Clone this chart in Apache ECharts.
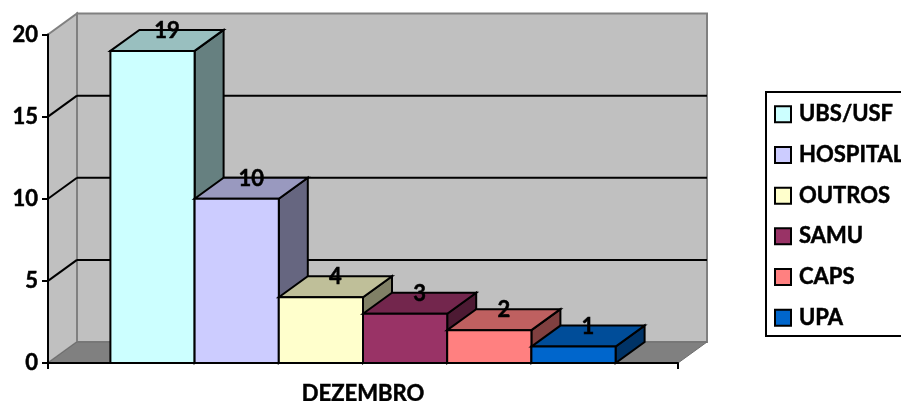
<!DOCTYPE html>
<html>
<head>
<meta charset="utf-8">
<style>
  html, body { margin: 0; padding: 0; background: #fff; overflow: hidden; }
  #main { width: 901px; height: 401px; }
</style>
<script src="https://cdn.jsdelivr.net/npm/echarts@6/dist/echarts.min.js"></script>
</head>
<body>
<div id="main"></div>
<script>
var categories = ['DEZEMBRO'];
var seriesNames = ['UBS/USF', 'HOSPITAL', 'OUTROS', 'SAMU', 'CAPS', 'UPA'];
var seriesValues = [19, 10, 4, 3, 2, 1];
var seriesColors = ['#CCFFFF', '#CCCCFF', '#FFFFCC', '#993366', '#FF8080', '#0066CC'];
var gridValues = [5, 10, 15];

// profundidade do efeito 3D
var DX = 29, DY = -21;
var BAR_W = 84.2 / 630;
var FONT = 'Lato, Carlito, "Open Sans", sans-serif';

function shade(hex, f) {
  var n = parseInt(hex.slice(1), 16);
  var r = Math.round((n >> 16 & 255) * f);
  var g = Math.round((n >> 8 & 255) * f);
  var b = Math.round((n & 255) * f);
  return 'rgb(' + r + ',' + g + ',' + b + ')';
}

function poly(points, fill, stroke, width) {
  return {
    type: 'polygon',
    shape: { points: points },
    style: { fill: fill, stroke: stroke, lineWidth: width, lineJoin: 'miter' }
  };
}

function line(x1, y1, x2, y2, color, width) {
  return {
    type: 'line',
    shape: { x1: x1, y1: y1, x2: x2, y2: y2 },
    style: { stroke: color, lineWidth: width, fill: null }
  };
}

// paredes e piso
function renderWalls(params, api) {
  var c = api.coord([0, 0]);
  var t = api.coord([0, 20]);
  var band = api.size([1, 0])[0];
  var l = c[0] - band / 2, r = c[0] + band / 2, b = c[1], u = t[1];
  return {
    type: 'group',
    children: [
      poly([[l + DX, u + DY], [r + DX, u + DY], [r + DX, b + DY], [l + DX, b + DY]], '#C0C0C0', '#808080', 2),
      poly([[l, u], [l + DX, u + DY], [l + DX, b + DY], [l, b]], '#C0C0C0', '#808080', 2),
      poly([[l, b], [r, b], [r + DX, b + DY], [l + DX, b + DY]], '#808080', '#6E6E6E', 1)
    ]
  };
}

function renderGridLine(params, api) {
  var c = api.coord([0, api.value(0)]);
  var band = api.size([1, 0])[0];
  var l = c[0] - band / 2, r = c[0] + band / 2, y = c[1];
  return {
    type: 'group',
    children: [
      line(l, y, l + DX, y + DY, '#000', 2),
      line(l + DX, y + DY, r + DX, y + DY, '#000', 2)
    ]
  };
}

function makeBarRenderer(idx, color) {
  return function (params, api) {
    var top = api.coord([0, api.value(1)]);
    var zero = api.coord([0, 0]);
    var band = api.size([1, 0])[0];
    var w = band * BAR_W;
    var x0 = top[0] - w * seriesNames.length / 2 + w * idx;
    var x1 = x0 + w;
    var yt = top[1], yb = zero[1];
    return {
      type: 'group',
      children: [
        poly([[x1, yt], [x1 + DX, yt + DY], [x1 + DX, yb + DY], [x1, yb]], shade(color, 0.5), '#000', 2),
        poly([[x0, yt], [x0 + DX, yt + DY], [x1 + DX, yt + DY], [x1, yt]], shade(color, 0.75), '#000', 2),
        poly([[x0, yt], [x1, yt], [x1, yb], [x0, yb]], color, '#000', 2),
        {
          type: 'text',
          x: (x0 + x1) / 2 + DX / 2,
          y: yt + DY + 1,
          style: {
            text: String(api.value(1)),
            fill: '#000',
            stroke: '#000',
            lineWidth: 0.5,
            font: 'bold 22px ' + FONT,
            align: 'center',
            verticalAlign: 'middle'
          }
        }
      ]
    };
  };
}

var series = [
  { type: 'custom', name: 'paredes', data: [[0, 0]], renderItem: renderWalls, silent: true, z: 1, clip: false },
  {
    type: 'custom', name: 'grade', renderItem: renderGridLine, silent: true, z: 1, clip: false,
    data: gridValues.map(function (v) { return [v]; }),
    encode: { y: 0 }
  }
];
seriesNames.forEach(function (name, i) {
  series.push({
    type: 'custom',
    name: name,
    data: [[0, seriesValues[i]]],
    encode: { x: 0, y: 1 },
    renderItem: makeBarRenderer(i, seriesColors[i]),
    itemStyle: { color: seriesColors[i] },
    z: 2 + i,
    clip: false
  });
});

var boldText = { color: '#000', fontFamily: FONT, fontWeight: 'bold', fontSize: 22, textBorderColor: '#000', textBorderWidth: 0.5 };

var chart = echarts.init(document.getElementById('main'), null, { renderer: 'canvas' });
chart.setOption({
  animation: false,
  backgroundColor: '#fff',
  grid: { left: 48, top: 34.5, width: 630, height: 328.5, containLabel: false, outerBoundsMode: 'none' },
  legend: {
    data: seriesNames,
    orient: 'vertical',
    left: 766,
    top: 92,
    padding: [11, 8, 7, 8],
    itemWidth: 16,
    itemHeight: 16,
    itemGap: 18.2,
    icon: 'rect',
    borderColor: '#000',
    borderWidth: 2,
    selectedMode: false,
    itemStyle: { borderColor: '#000', borderWidth: 2 },
    textStyle: Object.assign({}, boldText, { padding: [0, 0, 0, 3] })
  },
  xAxis: {
    type: 'category',
    data: categories,
    z: 20,
    axisLine: { lineStyle: { color: '#000', width: 2 } },
    axisTick: { show: true, length: 6, alignWithLabel: false, lineStyle: { color: '#000', width: 2 } },
    axisLabel: Object.assign({}, boldText, { margin: 20 })
  },
  yAxis: {
    type: 'value',
    min: 0,
    max: 20,
    interval: 5,
    z: 20,
    axisLine: { show: true, lineStyle: { color: '#000', width: 2 } },
    axisTick: { show: true, length: 6, lineStyle: { color: '#000', width: 2 } },
    splitLine: { show: false },
    axisLabel: Object.assign({}, boldText, { margin: 10 })
  },
  series: series
});
</script>
</body>
</html>
